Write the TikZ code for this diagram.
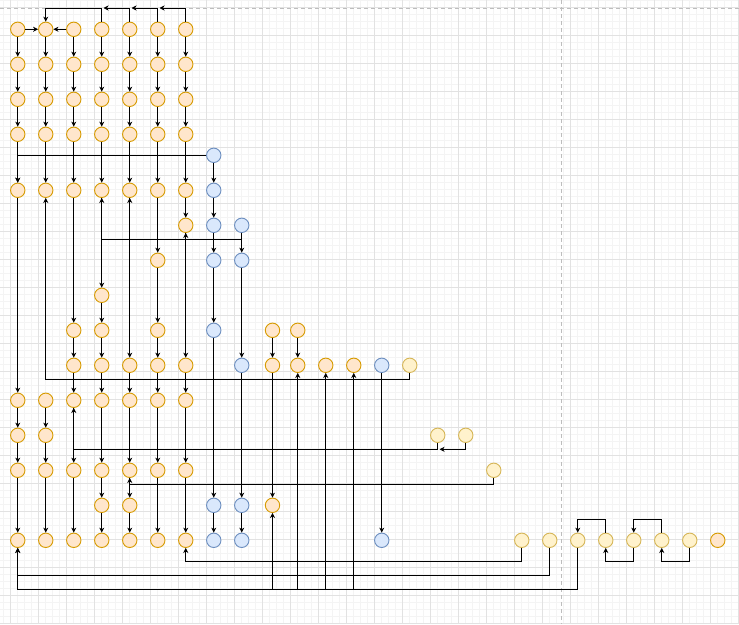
\documentclass[tikz,border=0pt]{standalone}
\usetikzlibrary{arrows.meta}
\definecolor{orfill}{HTML}{FFE6CC}\definecolor{orline}{HTML}{D79B00}
\definecolor{blfill}{HTML}{DAE8FC}\definecolor{blline}{HTML}{6C8EBF}
\definecolor{yefill}{HTML}{FFF2CC}\definecolor{yeline}{HTML}{D6B656}
\definecolor{gminor}{HTML}{F4F4F4}\definecolor{gmajor}{HTML}{E2E2E2}
\definecolor{pagedash}{HTML}{BDBDBD}
\tikzset{
  dot/.style={circle,minimum size=14.4pt,inner sep=0pt,line width=0.9pt},
  orn/.style={dot,draw=orline,fill=orfill},
  bln/.style={dot,draw=blline,fill=blfill},
  yen/.style={dot,draw=yeline,fill=yefill},
  arr/.style={draw=black,line width=0.85pt,-{Stealth[length=5pt,width=5pt,inset=1.5pt]}},
  minorline/.style={draw=gminor,line width=0.6pt},
  majorline/.style={draw=gmajor,line width=0.8pt},
  pageline/.style={draw=pagedash,line width=0.8pt,dash pattern=on 4pt off 3pt}
}
\newcommand\mynode[3]{\node[#1] (n#2-#3) at ({17.75+28*#2+2.75*(#2==9)},{50.3+35*#3}) {};}
\begin{document}
\begin{tikzpicture}[x=1pt,y=-1pt]
\useasboundingbox (0,0) rectangle (739,624);
\fill[white] (0,0) rectangle (739,624);
% grid
\foreach \i in {0,...,105}{\draw[minorline] ({3.5+7*\i},0) -- ({3.5+7*\i},624);}
\foreach \i in {0,...,89}{\draw[minorline] (0,{7*\i}) -- (739,{7*\i});}
\foreach \i in {0,...,26}{\draw[majorline] ({10.5+28*\i},0) -- ({10.5+28*\i},624);}
\foreach \i in {0,...,22}{\draw[majorline] (0,{7+28*\i}) -- (739,{7+28*\i});}
\draw[pageline] (0,8) -- (739,8);
\draw[pageline] (561.5,0) -- (561.5,624);
% nodes rows 0-3
\foreach \c in {0,...,6}{\foreach \r in {0,...,3}{\node[orn] (n\c-\r) at ({17.75+28*\c},{29.3+35*\r}) {};}}
\node[bln] (n7-b) at ({17.75+28*7},155.3) {};
% row 4
\foreach \c in {0,...,6}{\mynode{orn}{\c}{4}}
\mynode{bln}{7}{4}
% row 5
\mynode{orn}{6}{5}\mynode{bln}{7}{5}\mynode{bln}{8}{5}
% row 6
\mynode{orn}{5}{6}\mynode{bln}{7}{6}\mynode{bln}{8}{6}
% row 7
\mynode{orn}{3}{7}
% row 8
\foreach \c in {2,3,5,9,10}{\mynode{orn}{\c}{8}}
\mynode{bln}{7}{8}
% row 9
\foreach \c in {2,3,4,5,6,9,10,11,12}{\mynode{orn}{\c}{9}}
\mynode{bln}{8}{9}\mynode{bln}{13}{9}\mynode{yen}{14}{9}
% row 10
\foreach \c in {0,...,6}{\mynode{orn}{\c}{10}}
% row 11
\mynode{orn}{0}{11}\mynode{orn}{1}{11}\mynode{yen}{15}{11}\mynode{yen}{16}{11}
% row 12
\foreach \c in {0,...,6}{\mynode{orn}{\c}{12}}
\mynode{yen}{17}{12}
% row 13
\mynode{orn}{3}{13}\mynode{orn}{4}{13}\mynode{orn}{9}{13}\mynode{bln}{7}{13}\mynode{bln}{8}{13}
% row 14
\foreach \c in {0,...,6}{\mynode{orn}{\c}{14}}
\mynode{bln}{7}{14}\mynode{bln}{8}{14}\mynode{bln}{13}{14}
\foreach \c in {18,...,24}{\mynode{yen}{\c}{14}}
\mynode{orn}{25}{14}
% helper coordinates
\coordinate (t5) at (159.5,8);
\coordinate (t4) at (131.5,8);
\coordinate (t3) at (103.5,8);
\coordinate (e16) at (439.5,449.3);
\coordinate (h239) at (0,239.3);
\coordinate (h379) at (0,379.3);
\coordinate (h449) at (0,449.3);
\coordinate (h484) at (0,484.3);
\coordinate (h519) at (0,519.3);
\coordinate (h561) at (0,561.3);
\coordinate (h575) at (0,575.3);
\coordinate (h589) at (0,589.3);
% row 0 edges
\draw[arr] (n0-0) -- (n1-0);
\draw[arr] (n2-0) -- (n1-0);
\draw[arr] (n6-0.north) |- (t5);
\draw[arr] (n5-0.north) |- (t4);
\draw[arr] (n4-0.north) |- (t3);
\draw[arr] (n3-0.north) |- (n1-0.north |- t3) -- (n1-0.north);
% vertical chains
\foreach \c in {0,...,6}{\draw[arr] (n\c-0) -- (n\c-1); \draw[arr] (n\c-1) -- (n\c-2); \draw[arr] (n\c-2) -- (n\c-3); \draw[arr] (n\c-3) -- (n\c-4);}
\draw[arr] (n0-4) -- (n0-10); \draw[arr] (n0-10) -- (n0-11); \draw[arr] (n0-11) -- (n0-12); \draw[arr] (n0-12) -- (n0-14);
\draw[arr] (n1-10) -- (n1-11); \draw[arr] (n1-11) -- (n1-12); \draw[arr] (n1-12) -- (n1-14);
\draw[arr] (n2-4) -- (n2-8); \draw[arr] (n2-8) -- (n2-9); \draw[arr] (n2-9) -- (n2-10); \draw[arr] (n2-10) -- (n2-12); \draw[arr] (n2-12) -- (n2-14);
\draw[arr] (n3-4) -- (n3-7); \draw[arr] (n3-7) -- (n3-8); \draw[arr] (n3-8) -- (n3-9); \draw[arr] (n3-9) -- (n3-10); \draw[arr] (n3-10) -- (n3-12); \draw[arr] (n3-12) -- (n3-13); \draw[arr] (n3-13) -- (n3-14);
\draw[arr] (n4-4) -- (n4-9); \draw[arr] (n4-9) -- (n4-10); \draw[arr] (n4-10) -- (n4-12); \draw[arr] (n4-12) -- (n4-13); \draw[arr] (n4-13) -- (n4-14);
\draw[arr] (n5-4) -- (n5-6); \draw[arr] (n5-6) -- (n5-8); \draw[arr] (n5-8) -- (n5-9); \draw[arr] (n5-9) -- (n5-10); \draw[arr] (n5-10) -- (n5-12); \draw[arr] (n5-12) -- (n5-14);
\draw[arr] (n6-4) -- (n6-5); \draw[arr] (n6-5) -- (n6-9); \draw[arr] (n6-9) -- (n6-10); \draw[arr] (n6-10) -- (n6-12); \draw[arr] (n6-12) -- (n6-14);
\draw[arr] (n7-b) -- (n7-4); \draw[arr] (n7-4) -- (n7-5); \draw[arr] (n7-5) -- (n7-6); \draw[arr] (n7-6) -- (n7-8); \draw[arr] (n7-8) -- (n7-13); \draw[arr] (n7-13) -- (n7-14);
\draw[arr] (n8-5) -- (n8-6); \draw[arr] (n8-6) -- (n8-9); \draw[arr] (n8-9) -- (n8-13); \draw[arr] (n8-13) -- (n8-14);
\draw[arr] (n9-8) -- (n9-9); \draw[arr] (n9-9) -- (n9-13);
\draw[arr] (n10-8) -- (n10-9);
\draw[arr] (n13-9) -- (n13-14);
% orthogonal edges
\draw[arr] (n7-b.west) -| (n0-4.north);
\foreach \t in {n3-4,n4-4,n6-5}{\draw[arr] (n8-5.south) |- (h239 -| \t) -- (\t.south);}
\draw[arr] (n14-9.south) |- (h379 -| n1-4) -- (n1-4.south);
\draw[arr] (n15-11.south) |- (h449 -| n2-10) -- (n2-10.south);
\draw[arr] (n16-11.south) |- (e16);
\draw[arr] (n17-12.south) |- (h484 -| n4-12) -- (n4-12.south);
\draw[arr] (n21-14.north) |- (h519 -| n20-14) -- (n20-14.north);
\draw[arr] (n23-14.north) |- (h519 -| n22-14) -- (n22-14.north);
\draw[arr] (n18-14.south) |- (h561 -| n6-14) -- (n6-14.south);
\draw[arr] (n22-14.south) |- (h561 -| n21-14) -- (n21-14.south);
\draw[arr] (n24-14.south) |- (h561 -| n23-14) -- (n23-14.south);
\draw[arr] (n19-14.south) |- (h575 -| n0-14) -- (n0-14.south);
\foreach \t in {n0-14,n9-13,n10-9,n11-9,n12-9}{\draw[arr] (n20-14.south) |- (h589 -| \t) -- (\t.south);}
\end{tikzpicture}
\end{document}
